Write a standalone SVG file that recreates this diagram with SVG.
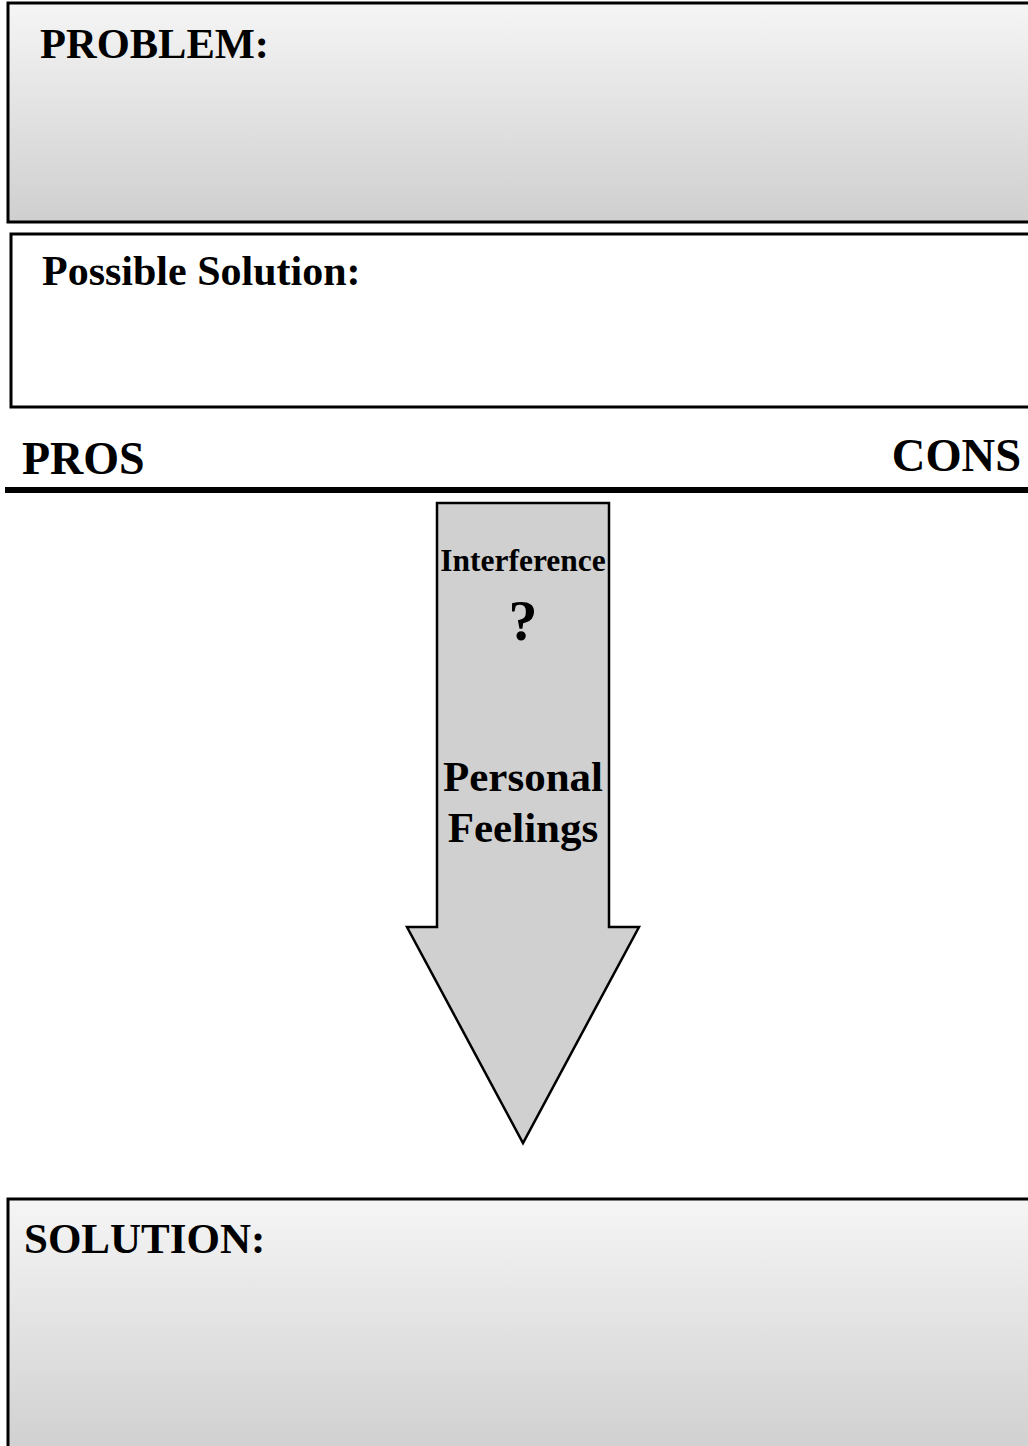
<svg xmlns="http://www.w3.org/2000/svg" width="1028" height="1446" viewBox="0 0 1028 1446">
  <defs>
    <linearGradient id="boxShade" x1="0" y1="0" x2="0" y2="1">
      <stop offset="0" stop-color="#f5f5f5"/>
      <stop offset="1" stop-color="#cfcfcf"/>
    </linearGradient>
    <style>
      .lbl { font-family: "Liberation Serif", "Times New Roman", serif; font-weight: bold; fill: #000; }
      .box { stroke: #000; stroke-width: 3; }
    </style>
  </defs>
  <rect width="1028" height="1446" fill="#fff"/>

  <g id="problem">
    <rect class="box" x="8" y="3" width="1030" height="219" fill="url(#boxShade)"/>
    <text class="lbl" x="40" y="58" font-size="42.5">PROBLEM:</text>
  </g>

  <g id="possible-solution">
    <rect class="box" x="11" y="234" width="1030" height="173" fill="#fff"/>
    <text class="lbl" x="42" y="285" font-size="42">Possible Solution:</text>
  </g>

  <g id="pros-cons">
    <text class="lbl" x="22" y="474" font-size="46">PROS</text>
    <text class="lbl" x="1021" y="471" font-size="46.5" text-anchor="end">CONS</text>
    <line x1="5" y1="490" x2="1028" y2="490" stroke="#000" stroke-width="6"/>
  </g>

  <g id="interference-arrow">
    <polygon points="437,503 609,503 609,927 639,927 523,1143 407,927 437,927" fill="#d0d0d0" stroke="#000" stroke-width="2.5" stroke-linejoin="miter"/>
    <text class="lbl" x="523" y="571" font-size="31.5" text-anchor="middle">Interference</text>
    <text class="lbl" x="523" y="640" font-size="58" text-anchor="middle">?</text>
    <text class="lbl" x="523" y="791" font-size="43" text-anchor="middle">Personal</text>
    <text class="lbl" x="523" y="842" font-size="43" text-anchor="middle">Feelings</text>
  </g>

  <g id="solution">
    <rect class="box" x="8" y="1199" width="1030" height="260" fill="url(#boxShade)"/>
    <text class="lbl" x="24" y="1253" font-size="43">SOLUTION:</text>
  </g>

  <g id="connectors"></g>
</svg>
